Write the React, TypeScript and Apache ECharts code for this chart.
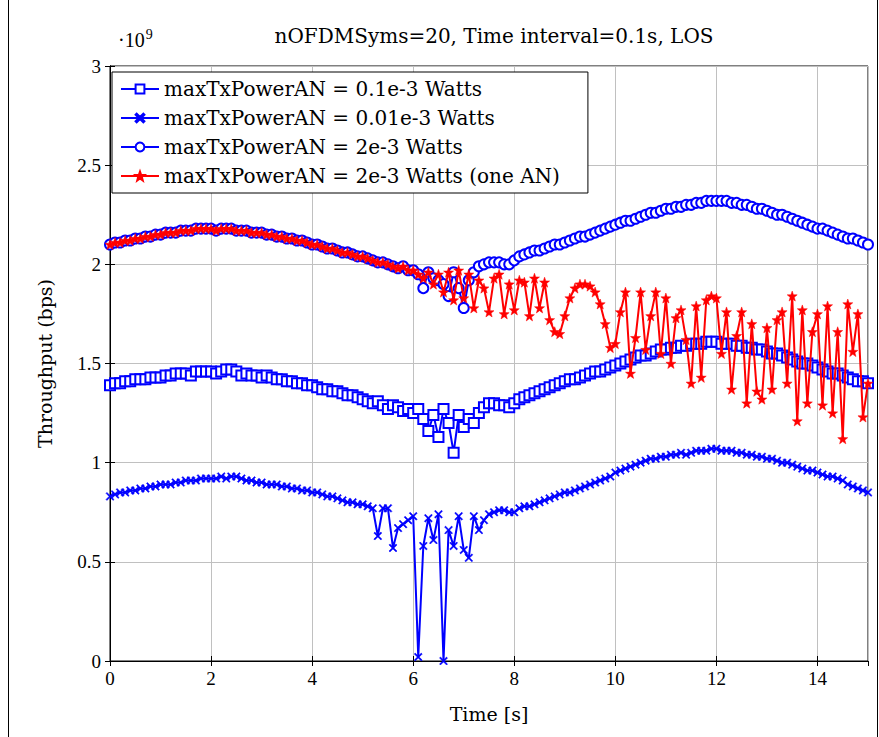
import React, { useEffect, useRef } from "react";
import * as echarts from "echarts";

// Throughput values in units of 1e9 bps, sampled every 0.1 s from 0 to 15 s
const timeSteps = 151;

const power01e3: number[] = [
  1.39, 1.40, 1.40, 1.41, 1.41, 1.42, 1.42, 1.42, 1.43, 1.43,
  1.43, 1.44, 1.44, 1.45, 1.45, 1.45, 1.44, 1.46, 1.46, 1.46,
  1.46, 1.45, 1.46, 1.47, 1.47, 1.46, 1.44, 1.45, 1.44, 1.44,
  1.43, 1.44, 1.43, 1.42, 1.42, 1.41, 1.41, 1.40, 1.40, 1.39,
  1.39, 1.38, 1.37, 1.37, 1.36, 1.36, 1.35, 1.34, 1.34, 1.33,
  1.32, 1.31, 1.30, 1.31, 1.29, 1.27, 1.29, 1.28, 1.26, 1.27,
  1.25, 1.27, 1.22, 1.16, 1.24, 1.13, 1.27, 1.20, 1.05, 1.24,
  1.18, 1.22, 1.20, 1.25, 1.28, 1.30, 1.30, 1.29, 1.29, 1.28,
  1.30, 1.32, 1.33, 1.34, 1.35, 1.36, 1.37, 1.38, 1.39, 1.40,
  1.41, 1.42, 1.42, 1.43, 1.44, 1.45, 1.46, 1.46, 1.47, 1.48,
  1.49, 1.50, 1.51, 1.52, 1.53, 1.54, 1.54, 1.55, 1.56, 1.57,
  1.57, 1.58, 1.58, 1.59, 1.59, 1.60, 1.60, 1.60, 1.61, 1.61,
  1.61, 1.60, 1.60, 1.60, 1.59, 1.59, 1.58, 1.58, 1.57, 1.57,
  1.56, 1.55, 1.55, 1.54, 1.53, 1.52, 1.51, 1.50, 1.50, 1.49,
  1.48, 1.47, 1.46, 1.45, 1.45, 1.44, 1.43, 1.42, 1.41, 1.41,
  1.40,
];

const power001e3: number[] = [
  0.83, 0.84, 0.85, 0.85, 0.86, 0.86, 0.87, 0.87, 0.88, 0.88,
  0.89, 0.89, 0.89, 0.90, 0.90, 0.91, 0.91, 0.91, 0.92, 0.92,
  0.92, 0.92, 0.93, 0.92, 0.93, 0.93, 0.92, 0.91, 0.91, 0.90,
  0.90, 0.89, 0.89, 0.89, 0.88, 0.88, 0.87, 0.87, 0.86, 0.86,
  0.85, 0.85, 0.84, 0.83, 0.83, 0.82, 0.81, 0.80, 0.80, 0.79,
  0.79, 0.78, 0.77, 0.63, 0.77, 0.77, 0.57, 0.67, 0.69, 0.71,
  0.73, 0.02, 0.58, 0.72, 0.61, 0.74, 0.00, 0.66, 0.58, 0.73,
  0.56, 0.52, 0.73, 0.66, 0.71, 0.74, 0.75, 0.76, 0.76, 0.75,
  0.75, 0.77, 0.78, 0.78, 0.79, 0.80, 0.81, 0.82, 0.83, 0.84,
  0.85, 0.85, 0.86, 0.87, 0.88, 0.89, 0.90, 0.91, 0.92, 0.93,
  0.95, 0.96, 0.97, 0.98, 0.99, 1.00, 1.01, 1.02, 1.02, 1.03,
  1.03, 1.04, 1.04, 1.05, 1.04, 1.05, 1.06, 1.06, 1.06, 1.07,
  1.07, 1.06, 1.06, 1.06, 1.05, 1.05, 1.04, 1.04, 1.03, 1.03,
  1.02, 1.02, 1.01, 1.00, 1.00, 0.99, 0.98, 0.97, 0.96, 0.96,
  0.95, 0.94, 0.93, 0.93, 0.92, 0.91, 0.89, 0.88, 0.87, 0.86,
  0.85,
];

const power2e3: number[] = [
  2.10, 2.11, 2.11, 2.12, 2.12, 2.13, 2.13, 2.14, 2.14, 2.15,
  2.15, 2.16, 2.16, 2.16, 2.17, 2.17, 2.17, 2.18, 2.18, 2.18,
  2.18, 2.17, 2.18, 2.18, 2.18, 2.17, 2.17, 2.17, 2.16, 2.16,
  2.16, 2.15, 2.15, 2.14, 2.14, 2.13, 2.13, 2.12, 2.12, 2.11,
  2.10, 2.10, 2.09, 2.08, 2.08, 2.07, 2.06, 2.06, 2.05, 2.04,
  2.04, 2.03, 2.02, 2.01, 2.01, 2.00, 1.99, 1.98, 1.99, 1.97,
  1.97, 1.95, 1.88, 1.96, 1.93, 1.92, 1.90, 1.84, 1.96, 1.88,
  1.78, 1.92, 1.96, 1.99, 2.00, 2.01, 2.01, 2.01, 2.00, 2.00,
  2.02, 2.04, 2.05, 2.06, 2.07, 2.07, 2.08, 2.09, 2.10, 2.10,
  2.11, 2.12, 2.13, 2.14, 2.14, 2.15, 2.16, 2.17, 2.18, 2.19,
  2.20, 2.21, 2.22, 2.22, 2.23, 2.24, 2.25, 2.26, 2.26, 2.27,
  2.28, 2.28, 2.29, 2.29, 2.30, 2.30, 2.31, 2.31, 2.32, 2.32,
  2.32, 2.32, 2.32, 2.31, 2.31, 2.30, 2.30, 2.29, 2.28, 2.28,
  2.27, 2.26, 2.25, 2.25, 2.24, 2.23, 2.22, 2.21, 2.20, 2.19,
  2.18, 2.18, 2.17, 2.16, 2.15, 2.14, 2.13, 2.13, 2.12, 2.11,
  2.10,
];

const power2e3OneAN: number[] = [
  2.10, 2.11, 2.11, 2.12, 2.12, 2.13, 2.13, 2.14, 2.14, 2.15,
  2.15, 2.16, 2.16, 2.16, 2.17, 2.17, 2.17, 2.18, 2.18, 2.18,
  2.18, 2.17, 2.18, 2.18, 2.18, 2.17, 2.17, 2.17, 2.16, 2.16,
  2.16, 2.15, 2.15, 2.14, 2.14, 2.13, 2.13, 2.12, 2.12, 2.11,
  2.10, 2.10, 2.09, 2.08, 2.08, 2.07, 2.06, 2.06, 2.05, 2.04,
  2.04, 2.03, 2.02, 2.01, 2.01, 2.00, 1.99, 1.98, 1.99, 1.97,
  1.97, 1.95, 1.93, 1.96, 1.90, 1.95, 1.86, 1.96, 1.82, 1.97,
  1.83, 1.95, 1.78, 1.92, 1.88, 1.76, 1.93, 1.95, 1.75, 1.90,
  1.77, 1.92, 1.91, 1.74, 1.93, 1.78, 1.91, 1.72, 1.66, 1.65,
  1.74, 1.83, 1.88, 1.90, 1.90, 1.89, 1.86, 1.80, 1.70, 1.58,
  1.60, 1.76, 1.86, 1.45, 1.63, 1.86, 1.57, 1.74, 1.86, 1.55,
  1.83, 1.50, 1.73, 1.77, 1.62, 1.40, 1.79, 1.43, 1.82, 1.84,
  1.83, 1.55, 1.76, 1.37, 1.64, 1.76, 1.30, 1.70, 1.36, 1.32,
  1.68, 1.37, 1.72, 1.76, 1.40, 1.84, 1.21, 1.77, 1.30, 1.66,
  1.75, 1.29, 1.79, 1.25, 1.66, 1.12, 1.80, 1.56, 1.75, 1.23,
  1.40,
];

const seriesNames = [
  "maxTxPowerAN = 0.1e-3 Watts",
  "maxTxPowerAN = 0.01e-3 Watts",
  "maxTxPowerAN = 2e-3 Watts",
  "maxTxPowerAN = 2e-3 Watts (one AN)",
];

const yTickLabels = ["0", "0.5", "1", "1.5", "2", "2.5", "3"];

const FONT = "'DejaVu Serif'";
const TICK_FONT = "'Liberation Serif'";
const BLUE = "#0000ff";
const RED = "#ff0000";

const CROSS_PATH =
  "path://M0,1.2 L1.2,0 L5,3.8 L8.8,0 L10,1.2 L6.2,5 L10,8.8 L8.8,10 L5,6.2 L1.2,10 L0,8.8 L3.8,5 Z";
const STAR_PATH =
  "path://M5,0 L6.2,3.4 L9.8,3.5 L7,5.7 L8,9.2 L5,7.1 L2,9.2 L3,5.7 L0.2,3.5 L3.8,3.4 Z";

function toPairs(values: number[]): [number, number][] {
  const out: [number, number][] = [];
  for (let i = 0; i < timeSteps; i++) {
    out.push([i / 10, values[i]]);
  }
  return out;
}

export default function App() {
  const ref = useRef<HTMLDivElement>(null);

  useEffect(() => {
    document.body.style.margin = "0";
    if (!ref.current) return;
    const chart = echarts.init(ref.current, null, { renderer: "svg" });

    const baseSeries = (
      name: string,
      values: number[],
      color: string,
      symbol: string,
      symbolSize: number,
      z: number
    ) => ({
      name,
      type: "line",
      data: toPairs(values),
      symbol,
      symbolSize,
      showAllSymbol: true,
      z,
      lineStyle: { color, width: 2 },
      itemStyle: { color, borderColor: color, borderWidth: symbol.startsWith("empty") ? 2 : 0.5 },
      emphasis: { disabled: true },
    });

    chart.setOption({
      animation: false,
      backgroundColor: "#fff",
      title: {
        text: "nOFDMSyms=20, Time interval=0.1s, LOS",
        left: 489,
        textAlign: "center",
        top: 21,
        textStyle: { fontFamily: FONT, fontSize: 20, fontWeight: "normal", color: "#000" },
      },
      legend: {
        orient: "vertical",
        left: 112,
        top: 72,
        itemWidth: 38,
        itemHeight: 11,
        itemGap: 9,
        padding: [7, 28, 7, 8],
        borderColor: "#000",
        borderWidth: 1,
        backgroundColor: "#fff",
        textStyle: { fontFamily: FONT, fontSize: 20, color: "#000" },
        data: seriesNames,
      },
      grid: {
        left: 110,
        right: 11,
        top: 66,
        bottom: 76,
        show: true,
        borderColor: "#000",
        borderWidth: 1,
        backgroundColor: "transparent",
      },
      xAxis: [
        {
          type: "value",
          min: 0,
          max: 15,
          interval: 2,
          name: "Time [s]",
          nameLocation: "middle",
          nameGap: 43,
          nameTextStyle: { fontFamily: FONT, fontSize: 19, color: "#000" },
          axisLine: { show: true, lineStyle: { color: "#000" } },
          axisTick: { show: true, inside: true, length: 5, lineStyle: { color: "#000" } },
          axisLabel: {
            fontFamily: TICK_FONT,
            fontSize: 19,
            color: "#000",
            margin: 8,
            showMaxLabel: false,
          },
          splitLine: { show: true, lineStyle: { color: "#c0c0c0", width: 1 } },
        },
        {
          type: "value",
          position: "top",
          min: 0,
          max: 15,
          interval: 2,
          axisLine: { show: true, lineStyle: { color: "#000" } },
          axisTick: { show: true, inside: true, length: 5, lineStyle: { color: "#000" } },
          axisLabel: { show: false },
          splitLine: { show: false },
        },
      ],
      yAxis: [
        {
          type: "value",
          min: 0,
          max: 3,
          interval: 0.5,
          name: "Throughput (bps)",
          nameLocation: "middle",
          nameGap: 56,
          nameRotate: 90,
          nameTextStyle: { fontFamily: FONT, fontSize: 19, color: "#000" },
          axisLine: { show: true, lineStyle: { color: "#000" } },
          axisTick: { show: true, inside: true, length: 5, lineStyle: { color: "#000" } },
          axisLabel: {
            fontFamily: TICK_FONT,
            fontSize: 19,
            color: "#000",
            margin: 9,
            formatter: (v: number) => yTickLabels[Math.round(v * 2)] ?? String(v),
          },
          splitLine: { show: true, lineStyle: { color: "#c0c0c0", width: 1 } },
        },
        {
          type: "value",
          position: "right",
          min: 0,
          max: 3,
          interval: 0.5,
          axisLine: { show: true, lineStyle: { color: "#000" } },
          axisTick: { show: true, inside: true, length: 5, lineStyle: { color: "#000" } },
          axisLabel: { show: false },
          splitLine: { show: false },
        },
      ],
      graphic: [
        {
          type: "text",
          left: 118,
          top: 27,
          style: {
            text: "{a|·10}{b|9}",
            rich: {
              a: { fontFamily: TICK_FONT, fontSize: 20, color: "#000", verticalAlign: "bottom" },
              b: { fontFamily: TICK_FONT, fontSize: 14, color: "#000", verticalAlign: "top", padding: [0, 0, 9, 1] },
            },
          },
        },
        {
          type: "line",
          shape: { x1: 8.5, y1: 0, x2: 8.5, y2: 737 },
          style: { stroke: "#000", lineWidth: 1 },
        },
        {
          type: "line",
          shape: { x1: 877.5, y1: 0, x2: 877.5, y2: 737 },
          style: { stroke: "#000", lineWidth: 1 },
        },
      ],
      series: [
        baseSeries(seriesNames[0], power01e3, BLUE, "emptyRect", 10, 2),
        baseSeries(seriesNames[1], power001e3, BLUE, CROSS_PATH, 8, 3),
        baseSeries(seriesNames[2], power2e3, BLUE, "emptyCircle", 10, 4),
        baseSeries(seriesNames[3], power2e3OneAN, RED, STAR_PATH, 10, 5),
      ],
    });

    return () => chart.dispose();
  }, []);

  return <div ref={ref} style={{ width: 879, height: 737 }} />;
}
